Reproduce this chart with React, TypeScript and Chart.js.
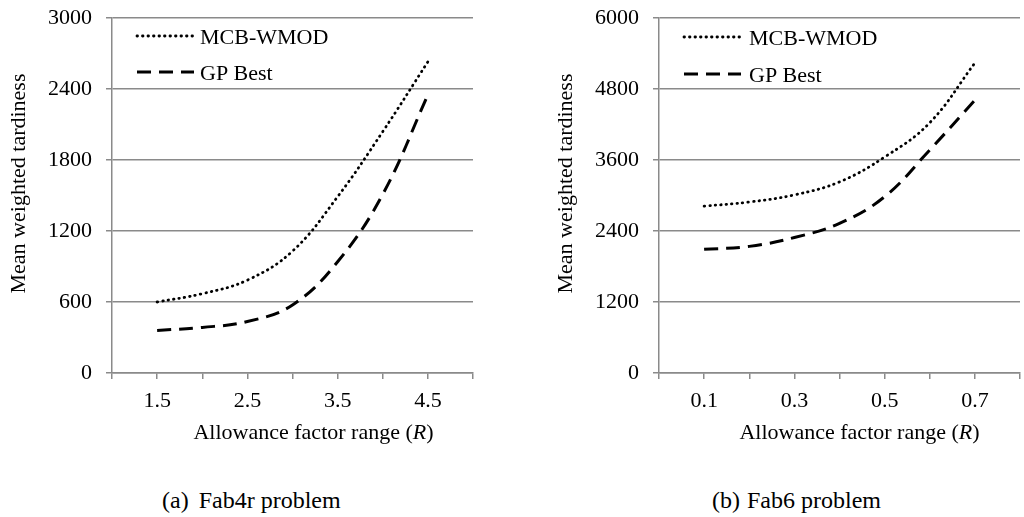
import React, { useEffect, useRef } from 'react';
import { Chart, registerables } from 'chart.js';

Chart.register(...registerables);

const FONT = "'Liberation Serif', 'Times New Roman', serif";
const GRID = '#8a8a8a';

// ---- data ----
const seriesNames = ['MCB-WMOD', 'GP Best'];

const xA = [1.5, 2, 2.5, 3, 3.5, 4, 4.5];
const mcbA = [600, 670, 785, 1030, 1490, 2040, 2630];
const gpA = [360, 385, 435, 575, 940, 1510, 2350];
const tickLabelsA = ['1.5', '2.5', '3.5', '4.5'];

const xB = [0.1, 0.2, 0.3, 0.4, 0.5, 0.6, 0.7];
const mcbB = [2820, 2890, 3010, 3230, 3650, 4230, 5240];
const gpB = [2090, 2140, 2290, 2530, 2980, 3770, 4610];
const tickLabelsB = ['0.1', '0.3', '0.5', '0.7'];

const yTitle = 'Mean weighted tardiness';
const xTitleParts = ['Allowance factor range (', 'R', ')'];
const captionA = ['(a)', 'Fab4r problem'];
const captionB = ['(b)', 'Fab6 problem'];

Chart.defaults.font.family = FONT;
Chart.defaults.color = '#000';

const overlayPlugin = {
  id: 'overlay',
  afterDraw(chart: any, _args: any, opts: any) {
    const { ctx, chartArea } = chart;
    ctx.save();
    // legend inside plot area
    chart.data.datasets.forEach((ds: any, i: number) => {
      const y = chartArea.top + opts.legendTop + i * opts.legendGap;
      ctx.beginPath();
      ctx.setLineDash(ds.borderDash || []);
      ctx.lineCap = ds.borderCapStyle || 'butt';
      ctx.lineWidth = ds.borderWidth;
      ctx.strokeStyle = ds.borderColor;
      ctx.moveTo(chartArea.left + opts.legendX0, y);
      ctx.lineTo(chartArea.left + opts.legendX1, y);
      ctx.stroke();
      ctx.setLineDash([]);
      ctx.fillStyle = '#000';
      ctx.font = `22px ${FONT}`;
      ctx.textBaseline = 'middle';
      ctx.textAlign = 'left';
      ctx.fillText(ds.label, chartArea.left + opts.legendTextX, y + 2);
    });
    // y-axis title
    ctx.save();
    ctx.translate(chartArea.left - 92.5, (chartArea.top + chartArea.bottom) / 2 - 12);
    ctx.rotate(-Math.PI / 2);
    ctx.font = `22px ${FONT}`;
    ctx.textAlign = 'center';
    ctx.textBaseline = 'middle';
    ctx.fillStyle = '#000';
    ctx.fillText(yTitle, 0, 0);
    ctx.restore();
    // x-axis title with italic variable
    const normal = `22px ${FONT}`;
    const italic = `italic 22px ${FONT}`;
    ctx.font = normal;
    const w1 = ctx.measureText(xTitleParts[0]).width;
    const w3 = ctx.measureText(xTitleParts[2]).width;
    ctx.font = italic;
    const w2 = ctx.measureText(xTitleParts[1]).width;
    const total = w1 + w2 + w3;
    const cx = (chartArea.left + chartArea.right) / 2 + opts.titleShift;
    const ty = chartArea.bottom + 60;
    let x = cx - total / 2;
    ctx.textBaseline = 'middle';
    ctx.textAlign = 'left';
    ctx.fillStyle = '#000';
    ctx.font = normal;
    ctx.fillText(xTitleParts[0], x, ty);
    x += w1;
    ctx.font = italic;
    ctx.fillText(xTitleParts[1], x, ty);
    x += w2;
    ctx.font = normal;
    ctx.fillText(xTitleParts[2], x, ty);
    ctx.restore();
  },
};

function buildConfig(
  xs: number[],
  mcb: number[],
  gp: number[],
  xMin: number,
  xMax: number,
  xStep: number,
  yMax: number,
  yStep: number,
  tickLabels: string[],
  legend: any
): any {
  const font = { family: FONT, size: 22 };
  return {
    type: 'line',
    data: {
      datasets: [
        {
          label: seriesNames[0],
          data: xs.map((x, i) => ({ x, y: mcb[i] })),
          borderColor: '#000',
          borderWidth: 2.8,
          borderDash: [0.5, 5],
          borderCapStyle: 'round',
          pointRadius: 0,
          tension: 0.4,
          fill: false,
        },
        {
          label: seriesNames[1],
          data: xs.map((x, i) => ({ x, y: gp[i] })),
          borderColor: '#000',
          borderWidth: 3,
          borderDash: [14, 8],
          borderCapStyle: 'butt',
          pointRadius: 0,
          tension: 0.4,
          fill: false,
        },
      ],
    },
    options: {
      responsive: false,
      maintainAspectRatio: false,
      animation: false,
      devicePixelRatio: 1,
      events: [],
      layout: { padding: { top: 18, right: 4, bottom: 0, left: 0 } },
      plugins: {
        legend: { display: false },
        tooltip: { enabled: false },
        overlay: legend,
      },
      scales: {
        x: {
          type: 'linear',
          min: xMin,
          max: xMax,
          ticks: {
            stepSize: xStep,
            autoSkip: false,
            maxRotation: 0,
            padding: 9,
            font,
            color: '#000',
            callback: (v: any) => {
              const s = Number(v).toFixed(1);
              return tickLabels.includes(s) ? s : '';
            },
          },
          grid: {
            drawOnChartArea: false,
            drawTicks: true,
            tickLength: 6,
            color: GRID,
            lineWidth: 1.5,
          },
          border: { display: true, color: GRID, width: 1.5 },
          afterFit: (s: any) => {
            s.height = 87;
            s.paddingLeft = 0;
            s.paddingRight = 0;
          },
        },
        y: {
          min: 0,
          max: yMax,
          ticks: {
            stepSize: yStep,
            padding: 14,
            font,
            color: '#000',
            callback: (v: any) => String(v),
          },
          grid: { color: GRID, lineWidth: 1.5, tickLength: 6 },
          border: { display: true, color: GRID, width: 1.5 },
          title: { display: false },
          afterFit: (s: any) => {
            s.width = 112;
            s.paddingTop = 0;
            s.paddingBottom = 0;
          },
        },
      },
    },
    plugins: [overlayPlugin],
  };
}

const captionStyle: React.CSSProperties = {
  position: 'absolute',
  top: 488,
  fontFamily: FONT,
  fontSize: 24,
  lineHeight: '24px',
  whiteSpace: 'pre',
  color: '#000',
};

export default function App() {
  const refA = useRef<HTMLCanvasElement>(null);
  const refB = useRef<HTMLCanvasElement>(null);

  useEffect(() => {
    document.body.style.margin = '0';
    let a: Chart | null = null;
    let b: Chart | null = null;
    let cancelled = false;
    const make = () => {
      if (cancelled) return;
      a = new Chart(
        refA.current as HTMLCanvasElement,
        buildConfig(xA, mcbA, gpA, 1, 5, 0.5, 3000, 600, tickLabelsA, {
          legendTop: 18,
          legendGap: 36,
          legendX0: 25,
          legendX1: 82,
          legendTextX: 88,
          titleShift: 21,
        })
      );
      b = new Chart(
        refB.current as HTMLCanvasElement,
        buildConfig(xB, mcbB, gpB, 0, 0.8, 0.1, 6000, 1200, tickLabelsB, {
          legendTop: 19,
          legendGap: 37,
          legendX0: 25,
          legendX1: 82,
          legendTextX: 90,
          titleShift: 20,
        })
      );
    };
    const fontsApi: any = (document as any).fonts;
    if (fontsApi && fontsApi.load) {
      Promise.all([
        fontsApi.load("22px 'Liberation Serif'"),
        fontsApi.load("italic 22px 'Liberation Serif'"),
      ])
        .catch(() => null)
        .then(make);
    } else {
      make();
    }
    return () => {
      cancelled = true;
      if (a) a.destroy();
      if (b) b.destroy();
    };
  }, []);

  return (
    <div
      style={{
        position: 'fixed',
        left: 0,
        top: 0,
        width: 1024,
        height: 517,
        background: '#fff',
        overflow: 'hidden',
      }}
    >
      <canvas
        ref={refA}
        width={477}
        height={460}
        style={{ position: 'absolute', left: 0, top: 0, width: 477, height: 460 }}
      />
      <canvas
        ref={refB}
        width={477}
        height={460}
        style={{ position: 'absolute', left: 547, top: 0, width: 477, height: 460 }}
      />
      <div style={{ ...captionStyle, left: 162 }}>
        <span>{captionA[0]}</span>
        <span style={{ marginLeft: 10 }}>{captionA[1]}</span>
      </div>
      <div style={{ ...captionStyle, left: 712 }}>
        <span>{captionB[0]}</span>
        <span style={{ marginLeft: 7 }}>{captionB[1]}</span>
      </div>
    </div>
  );
}
